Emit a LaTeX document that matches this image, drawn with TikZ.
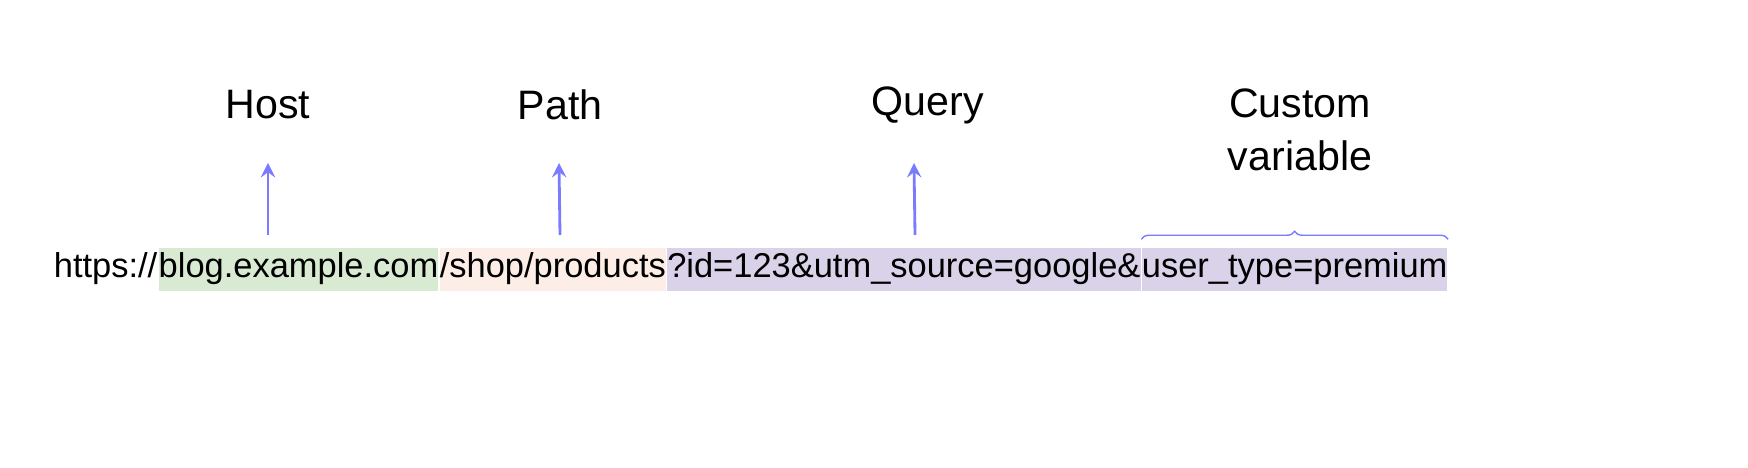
\documentclass[tikz,border=0pt]{standalone}
\usepackage{fontspec}
\setmainfont{Liberation Sans}
\usetikzlibrary{positioning,decorations.pathreplacing}
\definecolor{hostgreen}{HTML}{D9EAD3}
\definecolor{pathpeach}{HTML}{FCEEE6}
\definecolor{querypurple}{HTML}{D9D2E9}
\definecolor{arrowblue}{HTML}{7B7BFF}
\tikzset{
	urlpart/.style={inner xsep=0pt, inner ysep=0pt, minimum height=0.43cm, text height=0.25cm, text depth=0.08cm, font=\fontsize{9.8}{11}\selectfont},
	partlabel/.style={font=\fontsize{11.7}{15}\selectfont, align=center},
	pointer/.style={draw=arrowblue, thick, -stealth}
}
\begin{document}
\begin{tikzpicture}[x=0.01cm, y=-0.01cm]
	\useasboundingbox (0,0) rectangle (1748,468);

	% url pieces
	\node[urlpart, anchor=east] (scheme) at (158,269.5) {https://};
	\node[urlpart, fill=hostgreen, right=0pt of scheme] (host) {blog.example.com};
	\node[urlpart, fill=pathpeach, right=0pt of host] (path) {/shop/products};
	\node[urlpart, fill=querypurple, right=0pt of path] (query) {?id=123\&utm\_source=google\&};
	\node[urlpart, fill=querypurple, right=0pt of query] (custom) {user\_type=premium};

	% labels
	\node[partlabel] (hostlbl) at (268,105) {Host};
	\node[partlabel] (pathlbl) at (560,105) {Path};
	\node[partlabel] (querylbl) at (928,105) {Query};
	\node[partlabel] (customlbl) at (1300,130) {Custom\\variable};

	% pointers
	\coordinate (hostfoot) at (268,235);
	\coordinate (pathfoot) at (560,235);
	\coordinate (queryfoot) at (915,235);
	\draw[pointer] (hostfoot) -- (268,163);
	\draw[pointer] (pathfoot) -- (559,163);
	\draw[pointer] (queryfoot) -- (914,163);

	% brace
	\draw[draw=arrowblue, decorate, decoration={brace, amplitude=0.08cm}]
		([yshift=0.08cm]custom.north west) -- ([yshift=0.08cm]custom.north east);
\end{tikzpicture}
\end{document}
